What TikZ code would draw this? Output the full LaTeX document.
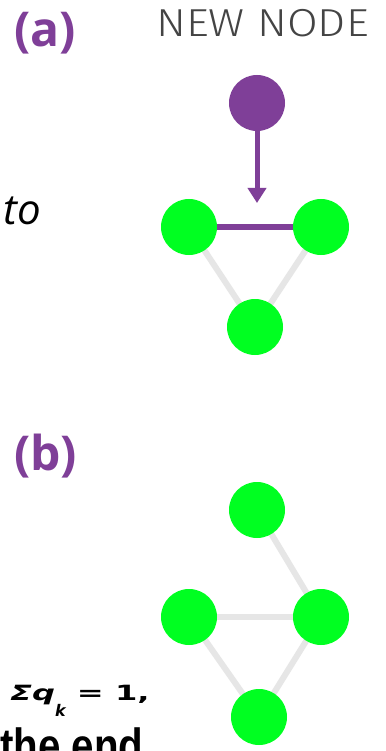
\documentclass[tikz,border=0pt]{standalone}
\usepackage{fontspec}
\usetikzlibrary{arrows.meta,backgrounds}
\newfontfamily\osans{Open Sans}
\newfontfamily\lsans{Liberation Sans}
\newfontfamily\dsans{DejaVu Sans}
\newfontfamily\thinsans{Fira Sans Light}
\definecolor{vio}{HTML}{7F3F98}
\definecolor{grn}{HTML}{00FF21}
\definecolor{edgegray}{HTML}{E6E6E6}
\definecolor{txtgray}{HTML}{444444}
\newcommand{\subk}{\raisebox{-16pt}{\scalebox{0.65}[1]{\fontsize{16}{16}\selectfont k}}}
\begin{document}
\begin{tikzpicture}[x=1pt,y=-1pt,
  vnode/.style={circle,fill=grn,minimum size=56pt,inner sep=0pt},
  pnode/.style={circle,fill=vio,minimum size=56pt,inner sep=0pt},
  gedge/.style={draw=edgegray,line width=6pt},
  pedge/.style={draw=vio,line width=6pt},
  panel/.style={font=\osans\bfseries\fontsize{48}{48}\selectfont,text=vio,inner sep=0pt,anchor=base west},
  plain/.style={inner sep=0pt,anchor=base west}
]
\useasboundingbox (0,0) rectangle (385,751);
\clip (0,0) rectangle (385,751);

% panel (a)
\node[panel] (la) at (14,47) {(a)};
\node[plain,text=txtgray] (nn) at (156,37)
  {\scalebox{1.14}[1]{\thinsans\fontsize{39}{39}\selectfont NEW NODE}};
\node[plain,font=\osans\itshape\fontsize{42}{42}\selectfont] (to) at (3,225) {to};
\node[pnode] (p) at (257,103) {};
\node[vnode] (l1) at (189,227) {};
\node[vnode] (r1) at (321,227) {};
\node[vnode] (b1) at (255,327) {};
\coordinate (tip) at (257,203);
\draw[vio,line width=5pt,-{Triangle[width=18pt,length=15pt]}] (p) -- (tip);

% panel (b)
\node[panel] (lb) at (14,470) {(b)};
\node[vnode] (t2) at (257,510) {};
\node[vnode] (l2) at (189,617) {};
\node[vnode] (r2) at (321,617) {};
\node[vnode] (b2) at (259,717) {};
\node[plain] (sum) at (10,700)
  {\scalebox{1.53}[1]{\dsans\bfseries\fontsize{21}{22}\selectfont\itshape Σq\subk{} \upshape= 1,}};
\node[plain] (end) at (0,762)
  {\scalebox{0.84}[1]{\lsans\bfseries\fontsize{48}{48}\selectfont the end}};

\begin{scope}[on background layer]
  \fill[white] (0,0) rectangle (385,751);
  \path[pedge] (l1.center) -- (r1.center);
  \path[gedge] (l1.center) -- (b1.center);
  \path[gedge] (r1.center) -- (b1.center);
  \path[gedge] (t2.center) -- (r2.center);
  \path[gedge] (l2.center) -- (r2.center);
  \path[gedge] (l2.center) -- (b2.center);
  \path[gedge] (r2.center) -- (b2.center);
\end{scope}
\end{tikzpicture}
\end{document}
